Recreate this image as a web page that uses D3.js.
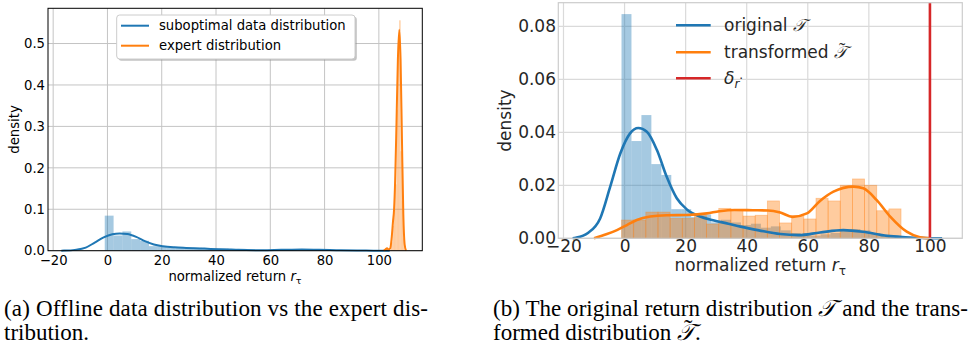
<!DOCTYPE html>
<html>
<head>
<meta charset="utf-8">
<script src="https://cdn.jsdelivr.net/npm/d3@7"></script>
<style>
  body { margin: 0; background: #fff; }
  svg { display: block; }
</style>
</head>
<body>
<div id="chart"></div>
<script>
// values
const xTicks = [-20, 0, 20, 40, 60, 80, 100];
const leftYTicks = [0, 0.1, 0.2, 0.3, 0.4, 0.5];
const rightYTicks = [0, 0.02, 0.04, 0.06, 0.08];

// original (suboptimal) return distribution, histogram + kde
const origBinEdges = [-1, 2.26, 5.52, 8.78, 12.04, 15.3, 18.56, 21.82, 25.08, 28.34, 31.6, 34.86,
  38.12, 41.38, 44.64, 47.9, 51.16, 54.42, 57.68, 60.94, 64.2, 67.46, 70.72, 73.98, 77.24, 80.5,
  83.76, 87.02, 90.28, 93.54, 96.8, 100.06, 103.32];
const origHist = [0.0846, 0.0367, 0.0465, 0.028, 0.0239, 0.011, 0.011, 0.008, 0.009, 0.006, 0.007,
  0.006, 0.005, 0.0055, 0.004, 0.0045, 0.003, 0.002, 0.0015, 0.001, 0.0015, 0.002, 0.003, 0.0035,
  0.003, 0.002, 0.001, 0.0005, 0.0005, 0.0003, 0.0003, 0.0002];
const origKde = [[-17, 0], [-16, 0.0002], [-12, 0.002], [-8, 0.0075], [-4.7, 0.0195], [-1.4, 0.032],
  [1.8, 0.0396], [4.5, 0.0416], [7.3, 0.0402], [10.6, 0.0333], [13.8, 0.0232], [17.1, 0.0151],
  [20.4, 0.0109], [24.7, 0.0082], [29, 0.0068], [34, 0.0055], [38, 0.0044], [44, 0.003], [51, 0.0016],
  [57, 0.0012], [64, 0.0022], [71.6, 0.0031], [78, 0.0025], [86, 0.0009], [92, 0.0004], [98, 0.0001],
  [104, 0]];

// transformed distribution
const transBinEdges = [-1, 2.98, 6.96, 10.94, 14.92, 18.9, 22.88, 26.86, 30.84, 34.82, 38.8, 42.78,
  46.76, 50.74, 54.72, 58.7, 62.68, 66.66, 70.64, 74.62, 78.6, 82.58, 86.56, 90.54];
const transHist = [0.0069, 0.0069, 0.0099, 0.0099, 0.0075, 0.0075, 0.0085, 0.0054, 0.0113, 0.0107,
  0.0084, 0.0087, 0.0141, 0.0058, 0.0085, 0.0073, 0.0151, 0.0141, 0.02, 0.0224, 0.02, 0.0104, 0.0111];
const transKde = [[-10, 0], [-6, 0.0015], [-2.5, 0.0031], [0.8, 0.005], [4, 0.0069], [8.4, 0.0082],
  [13.8, 0.0087], [20.4, 0.0088], [27, 0.0094], [31, 0.0102], [36, 0.0107], [42, 0.0106], [47, 0.0105],
  [51, 0.0097], [55, 0.0081], [59.7, 0.0094], [64, 0.0141], [68.4, 0.0176], [75, 0.0195], [78.2, 0.0189],
  [82.5, 0.0145], [87, 0.0082], [92.4, 0.0025], [96.7, 0.0004], [100, 0]];

// expert distribution (left panel)
const expertBinEdges = [102.5, 103, 103.5, 104, 104.5, 105, 105.5, 106, 106.5, 107, 107.5, 108, 108.5,
  109, 109.5, 110];
const expertHist = [0.006, 0.004, 0, 0, 0.02, 0.06, 0.1, 0.16, 0.34, 0.5, 0.556, 0.24, 0.12, 0.03, 0];
const expertKde = [[101.8, 0], [102.4, 0.003], [103, 0.006], [103.6, 0.003], [104.2, 0.006], [104.7, 0.03],
  [105.2, 0.07], [105.6, 0.1], [106, 0.17], [106.5, 0.31], [107, 0.46], [107.5, 0.533], [108, 0.46],
  [108.5, 0.27], [109, 0.09], [109.5, 0.015], [110, 0]];

const deltaR = 100;

const blue = '#1f77b4', orange = '#ff7f0e', red = '#d62728';
const sans = 'DejaVu Sans, sans-serif';
const serif = 'Liberation Serif, Times New Roman, serif';

const svg = d3.select('#chart').append('svg')
  .attr('width', 971)
  .attr('height', 354);

const fmtX = d => d < 0 ? '\u2212' + Math.abs(d) : d;

function bins(edges, vals) {
  return vals.map((v, i) => ({ x0: edges[i], x1: edges[i + 1], v: v }));
}

// ---------- left panel ----------
const xL = d3.scaleLinear().domain([-21.9, 116]).range([48, 422.3]);
const yL = d3.scaleLinear().domain([0, 0.585]).range([250.7, 8.3]);
const left = svg.append('g');

left.append('g').selectAll('line.gx')
  .data(xTicks).enter().append('line')
  .attr('x1', d => xL(d)).attr('x2', d => xL(d))
  .attr('y1', yL.range()[0]).attr('y2', yL.range()[1])
  .attr('stroke', '#c4c4c4').attr('stroke-width', 1);
left.append('g').selectAll('line.gy')
  .data(leftYTicks).enter().append('line')
  .attr('x1', xL.range()[0]).attr('x2', xL.range()[1])
  .attr('y1', d => yL(d)).attr('y2', d => yL(d))
  .attr('stroke', '#c4c4c4').attr('stroke-width', 1);

left.append('g').selectAll('rect')
  .data(bins(origBinEdges, origHist)).enter().append('rect')
  .attr('x', d => xL(d.x0)).attr('width', d => xL(d.x1) - xL(d.x0))
  .attr('y', d => yL(d.v)).attr('height', d => yL(0) - yL(d.v))
  .attr('fill', blue).attr('fill-opacity', 0.4);
left.append('g').selectAll('rect')
  .data(bins(expertBinEdges, expertHist)).enter().append('rect')
  .attr('x', d => xL(d.x0)).attr('width', d => xL(d.x1) - xL(d.x0))
  .attr('y', d => yL(d.v)).attr('height', d => yL(0) - yL(d.v))
  .attr('fill', orange).attr('fill-opacity', 0.4);

const lineL = d3.line().x(d => xL(d[0])).y(d => yL(d[1])).curve(d3.curveMonotoneX);
left.append('path').datum(origKde).attr('d', lineL)
  .attr('fill', 'none').attr('stroke', blue).attr('stroke-width', 2);
left.append('path').datum(expertKde).attr('d', lineL)
  .attr('fill', 'none').attr('stroke', orange).attr('stroke-width', 2);

left.append('g')
  .attr('transform', 'translate(0,' + yL(0) + ')')
  .call(d3.axisBottom(xL).tickValues(xTicks).tickSize(0).tickPadding(5).tickFormat(fmtX))
  .call(g => g.select('.domain').remove())
  .selectAll('text').attr('font-family', sans).attr('font-size', 13.2).attr('fill', '#000');
left.append('g')
  .attr('transform', 'translate(' + xL.range()[0] + ',0)')
  .call(d3.axisLeft(yL).tickValues(leftYTicks).tickSize(0).tickPadding(3).tickFormat(d3.format('.1f')))
  .call(g => g.select('.domain').remove())
  .selectAll('text').attr('font-family', sans).attr('font-size', 13.2).attr('fill', '#000');

left.append('rect')
  .attr('x', 48).attr('y', 8.3).attr('width', 422.3 - 48).attr('height', 250.7 - 8.3)
  .attr('fill', 'none').attr('stroke', '#000').attr('stroke-width', 1);

left.append('text')
  .attr('transform', 'translate(19.3,129.5) rotate(-90)')
  .attr('text-anchor', 'middle').attr('font-family', sans).attr('font-size', 13.2)
  .text('density');

const xlabL = left.append('text')
  .attr('x', 235).attr('y', 280.5).attr('text-anchor', 'middle')
  .attr('font-family', sans).attr('font-size', 13.2);
xlabL.append('tspan').text('normalized return ');
xlabL.append('tspan').attr('font-style', 'italic').text('r');
xlabL.append('tspan').attr('font-size', 9.5).attr('dy', 3).text('\u03c4');

// legend
const legL = left.append('g');
legL.append('rect').attr('x', 118.5).attr('y', 16.8).attr('width', 238.3).attr('height', 44)
  .attr('rx', 3).attr('fill', '#888').attr('fill-opacity', 0.5);
legL.append('rect').attr('x', 116.7).attr('y', 15).attr('width', 238.3).attr('height', 44)
  .attr('rx', 3).attr('fill', '#fff').attr('stroke', '#cccccc');
[['suboptimal data distribution', blue, 25.7], ['expert distribution', orange, 45.7]].forEach(r => {
  legL.append('line').attr('x1', 121).attr('x2', 149).attr('y1', r[2]).attr('y2', r[2])
    .attr('stroke', r[1]).attr('stroke-width', 2);
  legL.append('text').attr('x', 159).attr('y', r[2]).attr('dy', '0.35em')
    .attr('font-family', sans).attr('font-size', 13.2).text(r[0]);
});

// ---------- right panel ----------
const xR = d3.scaleLinear().domain([-21.7, 110.6]).range([558.3, 962.3]);
const yR = d3.scaleLinear().domain([0, 0.0889]).range([238.3, 2.7]);
const right = svg.append('g');

right.append('g').selectAll('line')
  .data(xTicks).enter().append('line')
  .attr('x1', d => xR(d)).attr('x2', d => xR(d))
  .attr('y1', yR.range()[0]).attr('y2', yR.range()[1])
  .attr('stroke', '#dadada').attr('stroke-width', 1.2);
right.append('g').selectAll('line')
  .data(rightYTicks).enter().append('line')
  .attr('x1', xR.range()[0]).attr('x2', xR.range()[1])
  .attr('y1', d => yR(d)).attr('y2', d => yR(d))
  .attr('stroke', '#dadada').attr('stroke-width', 1.2);

right.append('g').selectAll('rect')
  .data(bins(origBinEdges, origHist)).enter().append('rect')
  .attr('x', d => xR(d.x0)).attr('width', d => xR(d.x1) - xR(d.x0))
  .attr('y', d => yR(d.v)).attr('height', d => yR(0) - yR(d.v))
  .attr('fill', blue).attr('fill-opacity', 0.4);
right.append('g').selectAll('rect')
  .data(bins(transBinEdges, transHist)).enter().append('rect')
  .attr('x', d => xR(d.x0)).attr('width', d => xR(d.x1) - xR(d.x0))
  .attr('y', d => yR(d.v)).attr('height', d => yR(0) - yR(d.v))
  .attr('fill', orange).attr('fill-opacity', 0.4)
  .attr('stroke', orange).attr('stroke-opacity', 0.35).attr('stroke-width', 0.8);

const lineR = d3.line().x(d => xR(d[0])).y(d => yR(d[1])).curve(d3.curveMonotoneX);
right.append('path').datum(origKde).attr('d', lineR)
  .attr('fill', 'none').attr('stroke', blue).attr('stroke-width', 2.6);
right.append('path').datum(transKde).attr('d', lineR)
  .attr('fill', 'none').attr('stroke', orange).attr('stroke-width', 2.6);
right.append('line')
  .attr('x1', xR(deltaR)).attr('x2', xR(deltaR))
  .attr('y1', yR.range()[0]).attr('y2', yR.range()[1])
  .attr('stroke', red).attr('stroke-width', 2.6);

right.append('g')
  .attr('transform', 'translate(0,' + yR(0) + ')')
  .call(d3.axisBottom(xR).tickValues(xTicks).tickSize(0).tickPadding(2).tickFormat(fmtX))
  .call(g => g.select('.domain').remove())
  .selectAll('text').attr('font-family', sans).attr('font-size', 17).attr('fill', '#262626');
right.append('g')
  .attr('transform', 'translate(' + xR.range()[0] + ',0)')
  .call(d3.axisLeft(yR).tickValues(rightYTicks).tickSize(0).tickPadding(2.3).tickFormat(d3.format('.2f')))
  .call(g => g.select('.domain').remove())
  .selectAll('text').attr('font-family', sans).attr('font-size', 17).attr('fill', '#262626');

right.append('rect')
  .attr('x', 558.3).attr('y', 2.7).attr('width', 962.3 - 558.3).attr('height', 238.3 - 2.7)
  .attr('fill', 'none').attr('stroke', '#cccccc').attr('stroke-width', 1.2);

right.append('text')
  .attr('transform', 'translate(511,120.5) rotate(-90)')
  .attr('text-anchor', 'middle').attr('font-family', sans).attr('font-size', 17).attr('fill', '#262626')
  .text('density');

const xlabR = right.append('text')
  .attr('x', 760.3).attr('y', 271).attr('text-anchor', 'middle')
  .attr('font-family', sans).attr('font-size', 17).attr('fill', '#262626');
xlabR.append('tspan').text('normalized return ');
xlabR.append('tspan').attr('font-style', 'italic').text('r');
xlabR.append('tspan').attr('font-size', 12).attr('dy', 4).text('\u03c4');

// math T; with tilde=true a tilde tspan is put over it and the shift needed
// by the following tspan is returned
function mathT(textSel, size, tilde) {
  const t = textSel.append('tspan').attr('font-family', serif).attr('font-style', 'italic').text('\ud835\udcaf');
  if (!tilde) return null;
  const tw = t.node().getComputedTextLength();
  const ts = size * 1.1;
  const tilW = ts * 0.333;
  const up = size * 0.12;
  textSel.append('tspan').attr('font-family', serif).attr('font-size', ts)
    .attr('dx', -(tw / 2 + tilW / 2) + size * 0.1).attr('dy', -up).text('\u02dc');
  return { dx: tw / 2 - tilW / 2 - size * 0.1, dy: up };
}

const legR = right.append('g');
const legRows = [['original ', blue, 25.3], ['transformed ', orange, 52.3], ['', red, 78.3]];
legRows.forEach((r, i) => {
  legR.append('line').attr('x1', 676).attr('x2', 710.7).attr('y1', r[2]).attr('y2', r[2])
    .attr('stroke', r[1]).attr('stroke-width', 2.6);
  const t = legR.append('text').attr('x', 724).attr('y', r[2] + 0.35 * 17)
    .attr('font-family', sans).attr('font-size', 17).attr('fill', '#262626');
  if (i < 2) {
    t.append('tspan').text(r[0]);
    mathT(t, 17, i === 1);
  } else {
    t.append('tspan').attr('font-style', 'italic').text('\u03b4');
    t.append('tspan').attr('font-style', 'italic').attr('font-size', 12).attr('dy', 4).text('r');
    t.append('tspan').attr('font-size', 12).attr('dy', -5).text('\u00b7');
  }
});

// ---------- captions ----------
const capFont = 23;
svg.append('text').attr('x', 4).attr('y', 316).attr('font-family', serif).attr('font-size', capFont)
  .attr('textLength', 424).attr('lengthAdjust', 'spacing')
  .text('(a) Offline data distribution vs the expert dis-');
svg.append('text').attr('x', 4).attr('y', 340).attr('font-family', serif).attr('font-size', capFont)
  .text('tribution.');

const capB1 = svg.append('text').attr('x', 493).attr('y', 316).attr('font-family', serif).attr('font-size', capFont)
  .attr('textLength', 475).attr('lengthAdjust', 'spacing');
capB1.append('tspan').text('(b) The original return distribution ');
mathT(capB1, capFont, false);
capB1.append('tspan').text(' and the trans-');
const capB2 = svg.append('text').attr('x', 493).attr('y', 340).attr('font-family', serif).attr('font-size', capFont);
capB2.append('tspan').text('formed distribution ');
const shift = mathT(capB2, capFont, true);
capB2.append('tspan').attr('dx', shift.dx).attr('dy', shift.dy).text('.');
</script>
</body>
</html>
